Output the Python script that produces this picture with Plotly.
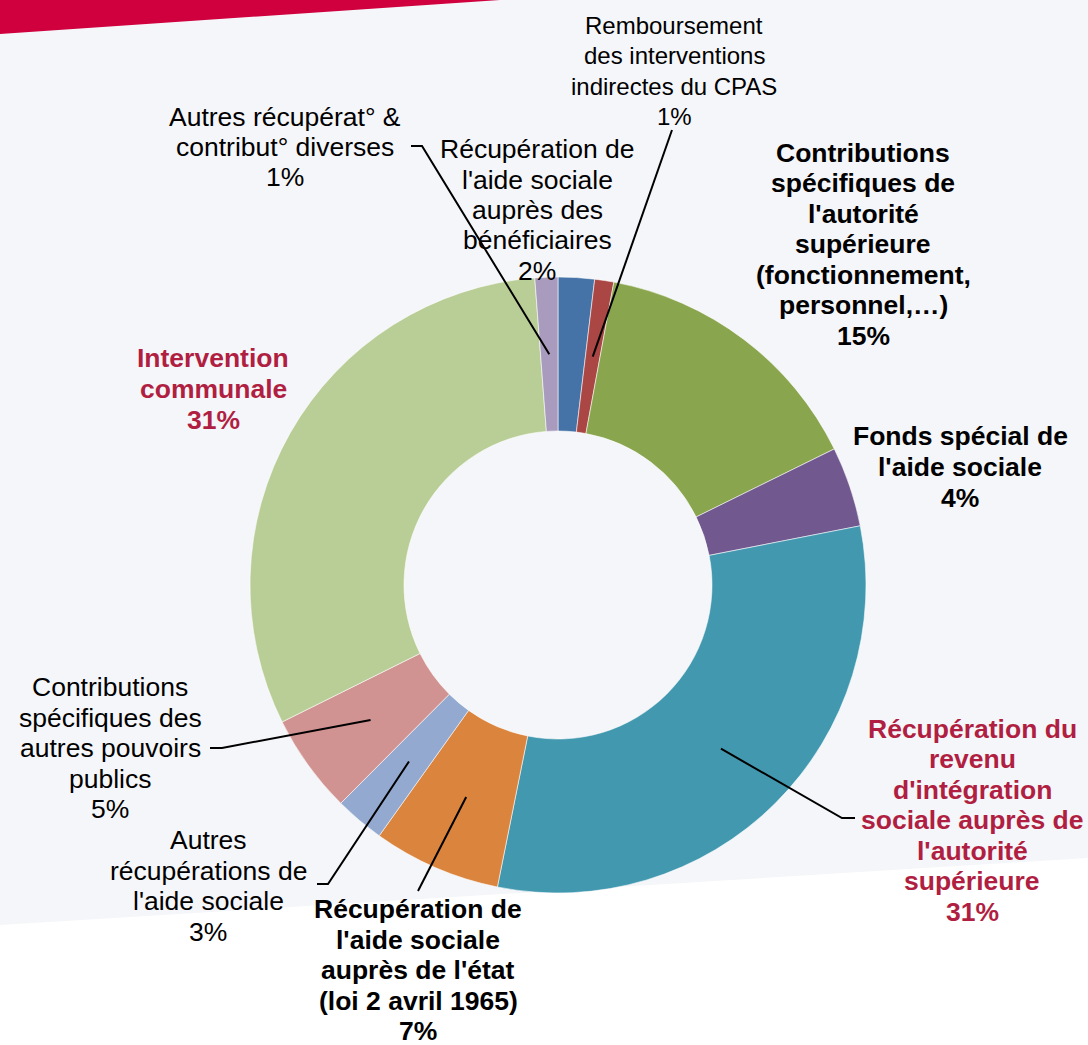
import math
import plotly.graph_objects as go

W, H = 1088, 1045

# ---- data (clockwise from 12 o'clock) ----
labels = [
    ["Récupération de", "l'aide sociale", "auprès des", "bénéficiaires"],
    ["Remboursement", "des interventions", "indirectes du CPAS"],
    ["Contributions", "spécifiques de", "l'autorité", "supérieure", "(fonctionnement,", "personnel,…)"],
    ["Fonds spécial de", "l'aide sociale"],
    ["Récupération du", "revenu", "d'intégration", "sociale auprès de", "l'autorité", "supérieure"],
    ["Récupération de", "l'aide sociale", "auprès de l'état", "(loi 2 avril 1965)"],
    ["Autres", "récupérations de", "l'aide sociale"],
    ["Contributions", "spécifiques des", "autres pouvoirs", "publics"],
    ["Intervention", "communale"],
    ["Autres récupérat° &", "contribut° diverses"],
]
values = [1.9, 1.0, 14.8, 4.2, 31.2, 6.7, 2.6, 5.2, 31.1, 1.2]
colors = ["#4572A7", "#AA4643", "#89A54E", "#71588F", "#4198AF",
          "#DB843D", "#93A9CF", "#D19392", "#B9CD96", "#A99BBD"]
label_colors = ["#000000", "#000000", "#000000", "#000000", "#B01F42",
                "#000000", "#000000", "#000000", "#B01F42", "#000000"]
bold = [False, False, True, True, True, True, False, False, True, False]

# ---- layout of labels (pixel positions of label block centres) ----
label_pos = [(537, 210), (674, 71), (863, 244), (960, 467), (972, 820),
             (418, 970), (208, 886), (110, 748), (213, 389), (285, 147)]
label_size = [26.5, 24, 26.5, 26.5, 26.5, 26.5, 26.5, 26.5, 26.5, 26.5]
LINE_H = 30.5
# leader lines: (elbow point, outer end) or None
leaders = [None, ((672, 130), (672, 130)), None, None,
           ((842, 818), (855, 818)), ((418, 891), (418, 891)),
           ((328, 884), (317, 884)), ((222, 748), (210, 748)), None,
           ((422, 146), (411, 146))]

CX, CY, R = 558, 585, 308
HOLE = 0.5


def px(x, y):
    return x / W, 1 - y / H


fig = go.Figure()
x0, y0 = px(CX - R, CY + R)
x1, y1 = px(CX + R, CY - R)
fig.add_trace(go.Pie(
    values=values, labels=[" ".join(l) for l in labels],
    sort=False, direction="clockwise", rotation=0, hole=HOLE,
    marker=dict(colors=colors, line=dict(color="rgba(255,255,255,0.7)", width=0.8)),
    textinfo="none", hoverinfo="label+percent", showlegend=False,
    domain=dict(x=[x0, x1], y=[y0, y1]),
))

shapes = [
    # background bands
    dict(type="path", xref="paper", yref="paper", layer="below",
         path="M 0 1 L %f 1 L 0 %f Z" % (500 / W, 1 - 34 / H),
         fillcolor="#D0003F", line=dict(width=0)),
    dict(type="path", xref="paper", yref="paper", layer="below",
         path="M 0 %f L 1 %f L 1 0 L 0 0 Z" % (1 - 925 / H, 1 - 858 / H),
         fillcolor="#FFFFFF", line=dict(width=0)),
]

total = sum(values)
cum = 0
annotations = []
for i, v in enumerate(values):
    mid = (cum + v / 2) / total * 2 * math.pi
    cum += v
    rm = R * (1 + HOLE) / 2
    ax, ay = CX + rm * math.sin(mid), CY - rm * math.cos(mid)
    if leaders[i] is not None:
        (ex, ey), (fx, fy) = leaders[i]
        p0 = px(ax, ay)
        p1 = px(ex, ey)
        p2 = px(fx, fy)
        shapes.append(dict(type="path", xref="paper", yref="paper",
                           path="M %f %f L %f %f L %f %f" % (p0[0], p0[1], p1[0], p1[1], p2[0], p2[1]),
                           line=dict(color="#000000", width=2)))
    lines = labels[i] + ["%d%%" % round(v / total * 100)]
    n = len(lines)
    cxl, cyl = label_pos[i]
    for k, t in enumerate(lines):
        ly = cyl + (k - (n - 1) / 2) * LINE_H
        xx, yy = px(cxl, ly)
        annotations.append(dict(
            x=xx, y=yy, xref="paper", yref="paper", xanchor="center", yanchor="middle",
            text=("<b>%s</b>" % t) if bold[i] else t, showarrow=False, borderpad=0,
            font=dict(family="Liberation Sans, Arial, sans-serif", size=label_size[i],
                      color=label_colors[i]),
        ))

fig.update_layout(
    width=W, height=H, margin=dict(l=0, r=0, t=0, b=0),
    paper_bgcolor="#F5F6F9", plot_bgcolor="#F5F6F9",
    shapes=shapes, annotations=annotations,
)

fig.write_html("out.html", config={"displayModeBar": False},
               post_script="document.body.style.margin='0';document.body.style.overflow='hidden';")
